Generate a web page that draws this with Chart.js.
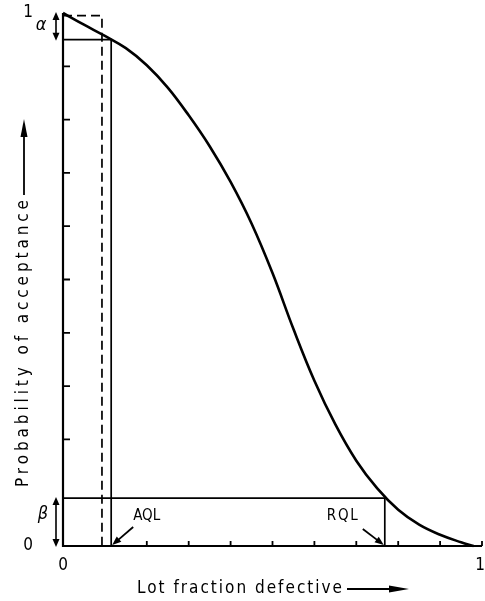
<!DOCTYPE html>
<html>
<head>
<meta charset="utf-8">
<script src="https://cdn.jsdelivr.net/npm/chart.js@4/dist/chart.umd.min.js"></script>
<style>
  html, body { margin: 0; padding: 0; background: #fff; }
  #wrap { width: 485px; height: 601px; position: relative; }
</style>
</head>
<body>
<div id="wrap"><canvas id="c"></canvas></div>
<script>
// ---- data ----
const curveX = [0, 0.05, 0.10, 0.15, 0.20, 0.25, 0.30, 0.35, 0.40, 0.45, 0.50, 0.55, 0.60, 0.65, 0.70, 0.75, 0.80, 0.85, 0.90, 0.95, 0.98];
const curveY = [1.000, 0.978, 0.957, 0.934, 0.902, 0.860, 0.808, 0.750, 0.683, 0.605, 0.512, 0.407, 0.310, 0.228, 0.160, 0.108, 0.068, 0.040, 0.021, 0.007, 0.000];
const alpha = 0.05;
const beta = 0.09;
const AQL = 0.115;
const RQL = 0.768;
const idealX = 0.093;     // dashed (ideal) line position
const idealTop = 0.995;
const xTicks = [0.2, 0.3, 0.4, 0.5, 0.6, 0.7, 0.8, 0.9, 1.0];
const yTicks = [0.2, 0.3, 0.4, 0.5, 0.6, 0.7, 0.8, 0.9];
const xTickLabels = [[0, '0'], [1, '1']];
const yTickLabels = [[0, '0'], [1, '1']];
const xTitle = 'Lot fraction defective';
const yTitle = 'Probability of acceptance';

const curve = curveX.map((x, i) => ({ x, y: curveY[i] }));
const alphaBox = [{ x: 0, y: 1 - alpha }, { x: AQL, y: 1 - alpha }, { x: AQL, y: 0 }];
const betaBox = [{ x: 0, y: beta }, { x: RQL, y: beta }, { x: RQL, y: 0 }];
const idealBox = [{ x: 0, y: idealTop }, { x: idealX, y: idealTop }, { x: idealX, y: 0 }];

const FONT = '"DejaVu Sans Condensed", "Liberation Sans Narrow", "DejaVu Sans", sans-serif';

function arrowHead(ctx, x, y, ang, len, wid) {
  ctx.save();
  ctx.translate(x, y);
  ctx.rotate(ang);
  ctx.beginPath();
  ctx.moveTo(0, 0);
  ctx.lineTo(-len, -wid / 2);
  ctx.lineTo(-len, wid / 2);
  ctx.closePath();
  ctx.fill();
  ctx.restore();
}
function arrowLine(ctx, x1, y1, x2, y2, len, wid, lw) {
  const ang = Math.atan2(y2 - y1, x2 - x1);
  ctx.lineWidth = lw;
  ctx.beginPath();
  ctx.moveTo(x1, y1);
  ctx.lineTo(x2 - Math.cos(ang) * len * 0.8, y2 - Math.sin(ang) * len * 0.8);
  ctx.stroke();
  arrowHead(ctx, x2, y2, ang, len, wid);
}
function spacedText(ctx, text, x, y, width) {
  ctx.letterSpacing = '0px';
  const w = ctx.measureText(text).width;
  const sp = (width - w) / (text.length - 1);
  ctx.letterSpacing = sp + 'px';
  ctx.textAlign = 'left';
  ctx.fillText(text, x, y);
  ctx.letterSpacing = '0px';
}

const decor = {
  id: 'decor',
  afterDatasetsDraw(chart) {
    const ctx = chart.ctx;
    const xs = chart.scales.x, ys = chart.scales.y;
    const X = v => xs.getPixelForValue(v), Y = v => ys.getPixelForValue(v);
    ctx.save();
    ctx.strokeStyle = '#000';
    ctx.fillStyle = '#000';
    ctx.lineCap = 'butt';
    // axes
    ctx.lineWidth = 2.2;
    ctx.beginPath();
    ctx.moveTo(X(0), Y(1));
    ctx.lineTo(X(0), Y(0));
    ctx.lineTo(X(1), Y(0));
    ctx.stroke();
    // inward ticks
    ctx.lineWidth = 1.8;
    ctx.beginPath();
    xTicks.forEach(v => { ctx.moveTo(X(v), Y(0)); ctx.lineTo(X(v), Y(0) - 5); });
    yTicks.forEach(v => { ctx.moveTo(X(0), Y(v)); ctx.lineTo(X(0) + 7, Y(v)); });
    ctx.stroke();
    // tick labels
    ctx.font = '17px ' + FONT;
    ctx.textAlign = 'center';
    ctx.textBaseline = 'middle';
    xTickLabels.forEach(([v, t]) => ctx.fillText(t, Math.min(X(v), 480), Y(0) + 20));
    yTickLabels.forEach(([v, t]) => ctx.fillText(t, X(0) - 35, Y(v)));
    // alpha / beta double arrows
    const ax = X(0) - 7;
    ctx.lineWidth = 1.6;
    ctx.beginPath();
    ctx.moveTo(ax, Y(1) + 6); ctx.lineTo(ax, Y(1 - alpha) - 6);
    ctx.moveTo(ax, Y(beta) + 6); ctx.lineTo(ax, Y(0) - 6);
    ctx.stroke();
    arrowHead(ctx, ax, Y(1) - 1, -Math.PI / 2, 8, 7);
    arrowHead(ctx, ax, Y(1 - alpha) + 1, Math.PI / 2, 8, 7);
    arrowHead(ctx, ax, Y(beta) - 1, -Math.PI / 2, 8, 7);
    arrowHead(ctx, ax, Y(0) + 1, Math.PI / 2, 8, 7);
    ctx.font = 'italic 18px ' + FONT;
    ctx.textAlign = 'center';
    ctx.fillText('\u03B1', X(0) - 22, (Y(1) + Y(1 - alpha)) / 2 - 1);
    ctx.fillText('\u03B2', X(0) - 20, (Y(beta) + Y(0)) / 2 - 8);
    // AQL / RQL labels and arrows
    ctx.font = '15px ' + FONT;
    ctx.textAlign = 'left';
    spacedText(ctx, 'AQL', X(AQL) + 22, Y(0) - 30, 27);
    spacedText(ctx, 'RQL', X(RQL) - 58, Y(0) - 30, 31);
    arrowLine(ctx, X(AQL) + 22, Y(0) - 19, X(AQL) + 1, Y(0) - 1, 9, 7, 1.8);
    arrowLine(ctx, X(RQL) - 22, Y(0) - 17, X(RQL) - 1, Y(0) - 1, 9, 7, 1.8);
    // x axis title with arrow
    ctx.font = '17px ' + FONT;
    ctx.textBaseline = 'middle';
    spacedText(ctx, xTitle, 137, 589, 205);
    arrowLine(ctx, 347, 589, 409, 589, 20, 7, 1.8);
    // y axis title (rotated) with arrow
    ctx.save();
    ctx.translate(24, 487);
    ctx.rotate(-Math.PI / 2);
    spacedText(ctx, yTitle, 0, 0, 287);
    arrowLine(ctx, 292, 0, 368, 0, 18, 7, 1.8);
    ctx.restore();
    ctx.restore();
  }
};

new Chart(document.getElementById('c'), {
  type: 'scatter',
  data: {
    datasets: [
      { data: curve, showLine: true, borderColor: '#000', borderWidth: 2.6, pointRadius: 0, tension: 0.4, clip: false },
      { data: alphaBox, showLine: true, borderColor: '#000', borderWidth: 1.7, pointRadius: 0, clip: false },
      { data: betaBox, showLine: true, borderColor: '#000', borderWidth: 1.7, pointRadius: 0, clip: false },
      { data: idealBox, showLine: true, borderColor: '#000', borderWidth: 1.7, borderDash: [9, 5], pointRadius: 0, clip: false }
    ]
  },
  options: {
    responsive: true,
    maintainAspectRatio: false,
    animation: false,
    layout: { padding: { left: 63, right: 3, top: 13, bottom: 55 } },
    plugins: { legend: { display: false }, tooltip: { enabled: false } },
    scales: {
      x: { type: 'linear', min: 0, max: 1, display: false },
      y: { type: 'linear', min: 0, max: 1, display: false }
    }
  },
  plugins: [decor]
});
</script>
</body>
</html>
